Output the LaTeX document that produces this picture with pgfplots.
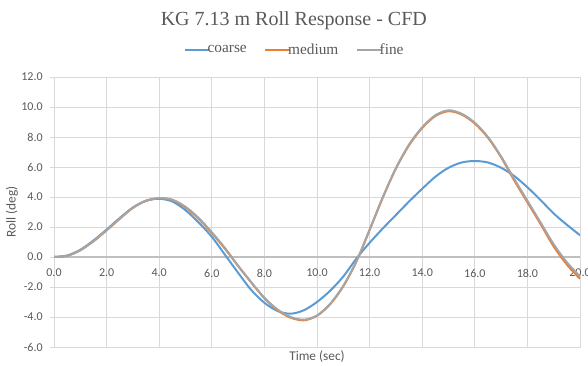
\documentclass[border=0pt]{standalone}
\usepackage{pgfplots}
\pgfplotsset{compat=1.18}
\usepackage{pgfplotstable}
\usepackage{fontspec}
\setmainfont{Carlito}
\newfontfamily\seriffont{Liberation Serif}
\definecolor{cblue}{HTML}{5B9BD5}
\definecolor{corange}{HTML}{ED7D31}
\definecolor{cgray}{HTML}{A5A5A5}
\definecolor{txt}{HTML}{595959}
\definecolor{gridc}{HTML}{D9D9D9}
\definecolor{zeroc}{HTML}{BFBFBF}

\pgfplotstableread{
t r
0 0
0.5 0.1
1 0.48
1.5 1.1
2 1.83
2.5 2.6
3 3.3
3.5 3.75
4 3.88
4.5 3.7
5 3.12
5.5 2.3
6 1.35
6.5 0.15
7 -1.05
7.5 -2.2
8 -3.05
8.5 -3.6
9 -3.78
9.5 -3.55
10 -3.0
10.5 -2.25
11 -1.3
11.5 -0.1
12 0.95
12.5 1.9
13 2.8
13.5 3.7
14 4.55
14.5 5.35
15 5.95
15.5 6.3
16 6.4
16.5 6.3
17 5.95
17.5 5.4
18 4.65
18.5 3.8
19 2.9
19.5 2.15
20 1.45
}\coarse

\pgfplotstableread{
t r
0 0
0.5 0.08
1 0.45
1.5 1.05
2 1.78
2.5 2.55
3 3.28
3.5 3.75
4 3.92
4.5 3.8
5 3.3
5.5 2.55
6 1.6
6.5 0.55
7 -0.6
7.5 -1.7
8 -2.75
8.5 -3.55
9 -4.05
9.5 -4.22
10 -3.92
10.5 -3.15
11 -1.95
11.5 -0.3
12 1.8
12.5 3.95
13 5.9
13.5 7.45
14 8.6
14.5 9.4
15 9.72
15.5 9.5
16 8.9
16.5 7.95
17 6.65
17.5 5.1
18 3.65
18.5 2.2
19 0.7
19.5 -0.5
20 -1.45
}\medium

\pgfplotstableread{
t r
0 0
0.5 0.08
1 0.45
1.5 1.05
2 1.78
2.5 2.55
3 3.28
3.5 3.75
4 3.92
4.5 3.82
5 3.35
5.5 2.6
6 1.65
6.5 0.6
7 -0.58
7.5 -1.68
8 -2.72
8.5 -3.5
9 -4.0
9.5 -4.18
10 -3.9
10.5 -3.12
11 -1.92
11.5 -0.28
12 1.82
12.5 3.98
13 5.92
13.5 7.5
14 8.65
14.5 9.45
15 9.78
15.5 9.55
16 8.95
16.5 8.0
17 6.7
17.5 5.2
18 3.75
18.5 2.3
19 0.85
19.5 -0.35
20 -1.3
}\fine

\begin{document}
\begin{tikzpicture}
\useasboundingbox (-40.5pt,-13.5pt) rectangle (400.5pt,260.25pt);
\begin{axis}[
  scale only axis,
  width=394.5pt, height=202.5pt,
  xmin=0, xmax=20, ymin=-6, ymax=12,
  xtick={0,2,...,20}, ytick={-6,-4,...,12},
  grid=major,
  major grid style={color=gridc, line width=0.6pt},
  axis line style={color=gridc, line width=0.6pt},
  tick style={color=gridc, line width=0.6pt},
  tick align=outside,
  xtick style={draw=none},
  ytick pos=left,
  major tick length=3pt,
  /pgf/number format/.cd, fixed, fixed zerofill, precision=1, assume math mode=true,
  /pgfplots/.cd,
  ticklabel style={font=\fontsize{9}{10}\selectfont, text=txt},
  yticklabel style={xshift=-2pt},
  xticklabel style={yshift=65pt},
  xlabel={Time (sec)},
  ylabel={Roll (deg)},
  xlabel style={at={(axis description cs:0.5,-0.037)}, anchor=center, font=\fontsize{10}{11}\selectfont, text=txt},
  ylabel style={at={(axis description cs:-0.08,0.5)}, anchor=center, rotate=0, font=\fontsize{10}{11}\selectfont, text=txt},
  title={\seriffont KG 7.13 m Roll Response - CFD},
  title style={at={(axis description cs:0.456,1.18)}, anchor=center, font=\fontsize{15}{17}\selectfont, text=txt},
  legend style={at={(axis description cs:0.458,1.10)}, anchor=center, draw=none, fill=none,
    font=\seriffont\fontsize{11.5}{13}\selectfont, text=txt, legend columns=3,
    /tikz/every even column/.append style={column sep=11pt}},
  legend cell align=left,
  legend image code/.code={\draw[#1] (0pt,0pt) -- (18.5pt,0pt);},
  every axis plot/.append style={line width=1.5pt, smooth},
]
\addplot[color=zeroc, line width=0.8pt, forget plot, sharp plot] coordinates {(0,0) (20,0)};
\addplot[color=cblue] table[x=t,y=r] {\coarse};
\addlegendentry{\hspace{-4pt}coarse}
\addplot[color=corange] table[x=t,y=r] {\medium};
\addlegendentry{\hspace{-4pt}medium}
\addplot[color=cgray] table[x=t,y=r] {\fine};
\addlegendentry{\hspace{-4pt}fine}
\end{axis}
\end{tikzpicture}
\end{document}
